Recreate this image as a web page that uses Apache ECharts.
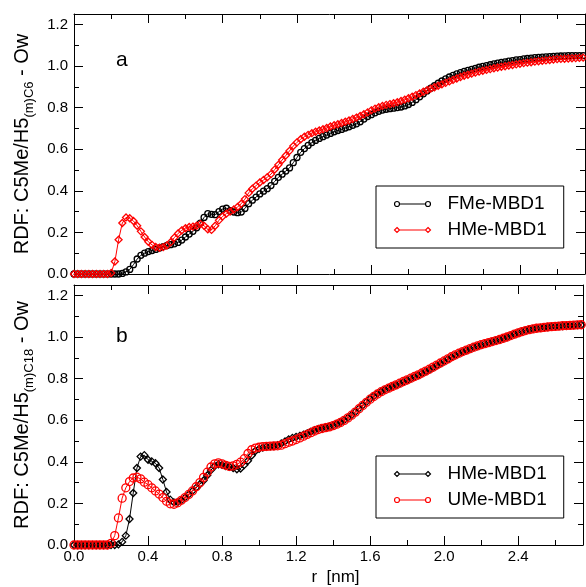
<!DOCTYPE html>
<html>
<head>
<meta charset="utf-8">
<script src="https://cdn.jsdelivr.net/npm/echarts@6/dist/echarts.min.js"></script>
<style>
  html, body { margin: 0; padding: 0; background: #fff; }
  #chart { width: 586px; height: 587px; }
</style>
</head>
<body>
<div id="chart"></div>
<script>
// r grid (nm), shared by all four curves
const r = [
  0, 0.02, 0.04, 0.06, 0.08, 0.10, 0.12, 0.14, 0.16, 0.18,
  0.20, 0.22, 0.24, 0.26, 0.28, 0.30, 0.32, 0.34, 0.36, 0.38,
  0.40, 0.42, 0.44, 0.46, 0.48, 0.50, 0.52, 0.54, 0.56, 0.58,
  0.60, 0.62, 0.64, 0.66, 0.68, 0.70, 0.72, 0.74, 0.76, 0.78,
  0.80, 0.82, 0.84, 0.86, 0.88, 0.90, 0.92, 0.94, 0.96, 0.98,
  1.00, 1.02, 1.04, 1.06, 1.08, 1.10, 1.12, 1.14, 1.16, 1.18,
  1.20, 1.22, 1.24, 1.26, 1.28, 1.30, 1.32, 1.34, 1.36, 1.38,
  1.40, 1.42, 1.44, 1.46, 1.48, 1.50, 1.52, 1.54, 1.56, 1.58,
  1.60, 1.62, 1.64, 1.66, 1.68, 1.70, 1.72, 1.74, 1.76, 1.78,
  1.80, 1.82, 1.84, 1.86, 1.88, 1.90, 1.92, 1.94, 1.96, 1.98,
  2.00, 2.02, 2.04, 2.06, 2.08, 2.10, 2.12, 2.14, 2.16, 2.18,
  2.20, 2.22, 2.24, 2.26, 2.28, 2.30, 2.32, 2.34, 2.36, 2.38,
  2.40, 2.42, 2.44, 2.46, 2.48, 2.50, 2.52, 2.54, 2.56, 2.58,
  2.60, 2.62, 2.64, 2.66, 2.68, 2.70, 2.72, 2.74
];

// panel a
const fmeA = [
  0, 0, 0, 0, 0, 0, 0, 0, 0, 0,
  0, 0, 0, 0.003, 0.01, 0.022, 0.045, 0.072, 0.09, 0.10,
  0.108, 0.113, 0.118, 0.125, 0.132, 0.137, 0.141, 0.145, 0.152, 0.163,
  0.178, 0.192, 0.205, 0.222, 0.245, 0.272, 0.29, 0.287, 0.285, 0.30,
  0.312, 0.316, 0.305, 0.298, 0.295, 0.298, 0.315, 0.338, 0.355, 0.37,
  0.385, 0.398, 0.41, 0.425, 0.445, 0.465, 0.48, 0.495, 0.51, 0.535,
  0.56, 0.585, 0.603, 0.618, 0.632, 0.642, 0.652, 0.66, 0.668, 0.676,
  0.684, 0.69, 0.695, 0.702, 0.708, 0.715, 0.722, 0.732, 0.745, 0.757,
  0.766, 0.775, 0.782, 0.788, 0.792, 0.795, 0.797, 0.80, 0.803, 0.808,
  0.815, 0.825, 0.838, 0.852, 0.866, 0.88, 0.893, 0.905, 0.917, 0.928,
  0.938, 0.947, 0.955, 0.962, 0.968, 0.974, 0.979, 0.984, 0.989, 0.994,
  0.998, 1.002, 1.006, 1.01, 1.014, 1.017, 1.02, 1.023, 1.026, 1.029,
  1.031, 1.034, 1.036, 1.038, 1.04, 1.041, 1.043, 1.044, 1.045, 1.046,
  1.047, 1.048, 1.049, 1.05, 1.05, 1.05, 1.05, 1.05
];
const hmeA = [
  0, 0, 0, 0, 0, 0, 0, 0, 0, 0,
  0.005, 0.06, 0.165, 0.245, 0.272, 0.268, 0.255, 0.232, 0.205, 0.178,
  0.155, 0.14, 0.13, 0.126, 0.129, 0.137, 0.153, 0.175, 0.195, 0.21,
  0.22, 0.226, 0.228, 0.232, 0.24, 0.232, 0.215, 0.212, 0.232, 0.258,
  0.277, 0.29, 0.30, 0.31, 0.322, 0.338, 0.36, 0.39, 0.41, 0.425,
  0.44, 0.452, 0.465, 0.48, 0.502, 0.525, 0.548, 0.57, 0.592, 0.615,
  0.633, 0.648, 0.66, 0.669, 0.677, 0.684, 0.69, 0.696, 0.702, 0.709,
  0.715, 0.72, 0.726, 0.732, 0.738, 0.745, 0.752, 0.76, 0.768, 0.777,
  0.787, 0.795, 0.802, 0.808, 0.813, 0.817, 0.821, 0.826, 0.832, 0.838,
  0.845, 0.852, 0.86, 0.868, 0.876, 0.884, 0.891, 0.898, 0.905, 0.912,
  0.919, 0.926, 0.933, 0.94, 0.947, 0.953, 0.958, 0.963, 0.968, 0.973,
  0.977, 0.981, 0.985, 0.989, 0.993, 0.996, 0.999, 1.002, 1.005, 1.008,
  1.011, 1.014, 1.016, 1.018, 1.021, 1.023, 1.025, 1.027, 1.029, 1.031,
  1.033, 1.034, 1.035, 1.036, 1.037, 1.038, 1.039, 1.04
];

// panel b
const hmeB = [
  0, 0, 0, 0, 0, 0, 0, 0, 0, 0,
  0, 0, 0.003, 0.015, 0.045, 0.125, 0.25, 0.37, 0.425, 0.432,
  0.41, 0.402, 0.393, 0.37, 0.315, 0.255, 0.218, 0.205, 0.206, 0.215,
  0.228, 0.243, 0.26, 0.275, 0.292, 0.31, 0.335, 0.36, 0.38, 0.388,
  0.385, 0.38, 0.376, 0.37, 0.364, 0.368, 0.385, 0.405, 0.43, 0.452,
  0.462, 0.468, 0.472, 0.474, 0.476, 0.48, 0.488, 0.498, 0.508, 0.515,
  0.52, 0.525, 0.53, 0.537, 0.545, 0.552, 0.558, 0.562, 0.566, 0.57,
  0.575, 0.582, 0.59, 0.6, 0.612, 0.625, 0.64, 0.656, 0.672, 0.688,
  0.703, 0.716, 0.728, 0.738, 0.747, 0.755, 0.762, 0.769, 0.776, 0.784,
  0.792, 0.8, 0.808, 0.816, 0.825, 0.834, 0.843, 0.853, 0.863, 0.873,
  0.883, 0.893, 0.903, 0.912, 0.921, 0.929, 0.936, 0.943, 0.95, 0.956,
  0.962, 0.968, 0.973, 0.978, 0.983, 0.988, 0.994, 1.0, 1.007, 1.014,
  1.021, 1.027, 1.032, 1.036, 1.039, 1.042, 1.044, 1.046, 1.048, 1.05,
  1.051, 1.052, 1.053, 1.054, 1.055, 1.056, 1.057, 1.058
];
const umeB = [
  0, 0, 0, 0, 0, 0, 0, 0, 0, 0,
  0.008, 0.045, 0.13, 0.225, 0.275, 0.305, 0.322, 0.326, 0.318, 0.302,
  0.29, 0.275, 0.26, 0.245, 0.228, 0.21, 0.198, 0.196, 0.203, 0.215,
  0.228, 0.243, 0.26, 0.28, 0.30, 0.325, 0.35, 0.375, 0.39, 0.395,
  0.39, 0.383, 0.378, 0.38, 0.388, 0.398, 0.415, 0.44, 0.458, 0.466,
  0.47, 0.473, 0.474, 0.475, 0.476, 0.477, 0.48, 0.487, 0.494, 0.5,
  0.507, 0.515, 0.523, 0.532, 0.54, 0.548, 0.555, 0.56, 0.564, 0.568,
  0.574, 0.581, 0.589, 0.599, 0.611, 0.624, 0.639, 0.655, 0.671, 0.686,
  0.701, 0.714, 0.726, 0.737, 0.746, 0.754, 0.762, 0.77, 0.778, 0.786,
  0.794, 0.802, 0.81, 0.818, 0.827, 0.836, 0.845, 0.855, 0.865, 0.875,
  0.885, 0.895, 0.905, 0.914, 0.922, 0.93, 0.937, 0.944, 0.951, 0.957,
  0.963, 0.968, 0.973, 0.978, 0.983, 0.988, 0.994, 1.0, 1.007, 1.014,
  1.02, 1.026, 1.031, 1.035, 1.039, 1.042, 1.044, 1.046, 1.048, 1.05,
  1.051, 1.052, 1.054, 1.055, 1.056, 1.057, 1.058, 1.059
];

const FONT = '"Liberation Sans", Arial, sans-serif';

const chart = echarts.init(document.getElementById('chart'));

function pairs(arr) {
  return r.map((x, i) => [x, arr[i]]);
}

function onStep(v, step) {
  const k = v / step;
  return Math.abs(k - Math.round(k)) < 1e-6;
}

function xAx(grid, pos, labels, name) {
  return {
    type: 'value', gridIndex: grid, position: pos,
    min: 0, max: 2.75, interval: 0.4,
    name: name || '',
    nameLocation: 'middle', nameGap: 24,
    nameTextStyle: { color: '#000', fontSize: 17, fontFamily: FONT, padding: [0, 0, 0, 14] },
    axisLine: { show: true, onZero: false, lineStyle: { color: '#000', width: 1 } },
    axisTick: { show: true, inside: true, length: 9, lineStyle: { color: '#000' } },
    minorTick: { show: true, splitNumber: 2, length: 5, lineStyle: { color: '#000' } },
    splitLine: { show: false },
    axisLabel: {
      show: labels, margin: 4, color: '#000', fontSize: 15, fontFamily: FONT,
      formatter: v => onStep(v, 0.4) ? v.toFixed(1) : ''
    }
  };
}

function yAx(grid, pos, labels, name) {
  return {
    type: 'value', gridIndex: grid, position: pos,
    min: 0, max: 1.25, interval: 0.2,
    name: name || '',
    nameLocation: 'middle', nameGap: 36,
    nameTextStyle: {
      color: '#000', fontFamily: FONT,
      rich: {
        n: { fontSize: 20, lineHeight: 28, verticalAlign: 'middle', fontFamily: FONT, color: '#000' },
        s: { fontSize: 13, lineHeight: 13, verticalAlign: 'bottom', fontFamily: FONT, color: '#000' }
      }
    },
    axisLine: { show: true, onZero: false, lineStyle: { color: '#000', width: 1 } },
    axisTick: { show: true, inside: true, length: 9, lineStyle: { color: '#000' } },
    minorTick: { show: true, splitNumber: 2, length: 5, lineStyle: { color: '#000' } },
    splitLine: { show: false },
    axisLabel: {
      show: labels, margin: 6, color: '#000', fontSize: 15, fontFamily: FONT,
      formatter: v => onStep(v, 0.2) ? v.toFixed(1) : ''
    }
  };
}

function curve(name, arr, axis, color, symbol, size) {
  return {
    type: 'line', name: name, xAxisIndex: axis, yAxisIndex: axis,
    data: pairs(arr),
    symbol: symbol, symbolSize: size,
    showSymbol: true, showAllSymbol: true, clip: false, silent: true,
    lineStyle: { color: color, width: 1 },
    itemStyle: { color: 'rgba(0,0,0,0)', borderColor: color, borderWidth: 1.3 }
  };
}

// legend icons: short line with an open marker at each end
const circIcon = 'path://M5,2.5L31,2.5M0,2.5A2.5,2.5 0 1,1 5,2.5A2.5,2.5 0 1,1 0,2.5ZM31,2.5A2.5,2.5 0 1,1 36,2.5A2.5,2.5 0 1,1 31,2.5Z';
const diamIcon = 'path://M5,2.5L31,2.5M2.5,0L5,2.5L2.5,5L0,2.5ZM33.5,0L36,2.5L33.5,5L31,2.5Z';

function legendBox(top, items) {
  return {
    orient: 'vertical', left: 376, top: top,
    padding: [8, 17, 8, 16], itemGap: 6, itemWidth: 36, itemHeight: 5,
    borderColor: '#000', borderWidth: 1, backgroundColor: '#fff',
    selectedMode: false,
    textStyle: { fontSize: 19, lineHeight: 20, color: '#000', fontFamily: FONT, padding: [0, 0, 0, 12] },
    data: items.map(it => ({
      name: it[0], icon: it[1],
      itemStyle: { color: 'none', borderColor: it[2], borderWidth: 1.2 }
    }))
  };
}

const option = {
  animation: false,
  backgroundColor: '#fff',
  grid: [
    { left: 74, top: 14, width: 511, height: 260 },
    { left: 74, top: 285, width: 511, height: 261 }
  ],
  xAxis: [
    xAx(0, 'bottom', false),
    xAx(0, 'top', false),
    xAx(1, 'bottom', true, 'r  [nm]'),
    xAx(1, 'top', false)
  ],
  yAxis: [
    yAx(0, 'left', true, '{n|RDF: C5Me/H5}{s|(m)C6}{n| - Ow}'),
    yAx(0, 'right', false),
    yAx(1, 'left', true, '{n|RDF: C5Me/H5}{s|(m)C18}{n| - Ow}'),
    yAx(1, 'right', false)
  ],
  legend: [
    legendBox(186, [['FMe-MBD1', circIcon, '#000'], ['HMe-MBD1', diamIcon, '#ff0000']]),
    legendBox(456, [['HMe-MBD1', diamIcon, '#000'], ['UMe-MBD1', circIcon, '#ff0000']])
  ],
  graphic: [
    { type: 'text', left: 116, top: 50, style: { text: 'a', font: '21px ' + FONT, fill: '#000' } },
    { type: 'text', left: 116, top: 326, style: { text: 'b', font: '21px ' + FONT, fill: '#000' } }
  ],
  series: [
    curve('FMe-MBD1', fmeA, 0, '#000', 'circle', 6),
    curve('HMe-MBD1', hmeA, 0, '#ff0000', 'diamond', 7),
    curve('HMe-MBD1', hmeB, 2, '#000', 'diamond', 7),
    curve('UMe-MBD1', umeB, 2, '#ff0000', 'circle', 8)
  ]
};

chart.setOption(option);
</script>
</body>
</html>
